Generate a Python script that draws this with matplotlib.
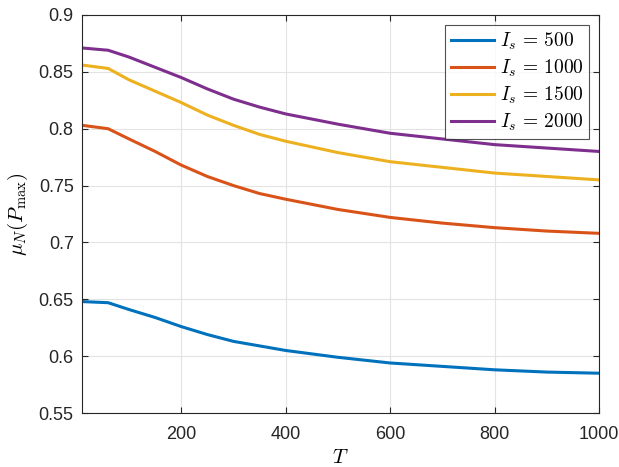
import numpy as np
import matplotlib
matplotlib.use("Agg")
import matplotlib.pyplot as plt

plt.rcParams['font.family'] = ['Liberation Sans', 'DejaVu Sans']
plt.rcParams['mathtext.fontset'] = 'cm'

# values
T = [10, 60, 100, 150, 200, 250, 300, 350, 400, 500, 600, 700, 800, 900, 1000]
mu_500 = [0.648, 0.647, 0.641, 0.634, 0.626, 0.619, 0.613, 0.609, 0.605, 0.599, 0.594, 0.591, 0.588, 0.586, 0.585]
mu_1000 = [0.803, 0.800, 0.791, 0.780, 0.768, 0.758, 0.750, 0.743, 0.738, 0.729, 0.722, 0.717, 0.713, 0.710, 0.708]
mu_1500 = [0.856, 0.853, 0.843, 0.833, 0.823, 0.812, 0.803, 0.795, 0.789, 0.779, 0.771, 0.766, 0.761, 0.758, 0.755]
mu_2000 = [0.871, 0.869, 0.863, 0.854, 0.845, 0.835, 0.826, 0.819, 0.813, 0.804, 0.796, 0.791, 0.786, 0.783, 0.780]
labels = [r'$I_s\,=\,500$', r'$I_s\,=\,1000$', r'$I_s\,=\,1500$', r'$I_s\,=\,2000$']
colors = ['#0072BD', '#D95319', '#EDB120', '#7E2F8E']

fig = plt.figure(figsize=(6.19, 4.67), dpi=100)
ax = fig.add_axes([0.1325, 0.1156, 0.8352, 0.8523])

for ys, lab, c in zip([mu_500, mu_1000, mu_1500, mu_2000], labels, colors):
    ax.plot(T, ys, color=c, linewidth=2.2, label=lab)

ax.set_xlim(10, 1000)
ax.set_ylim(0.55, 0.9)
ax.set_xticks([200, 400, 600, 800, 1000])
ax.set_yticks([0.55, 0.6, 0.65, 0.7, 0.75, 0.8, 0.85, 0.9])
ax.set_yticklabels(['0.55', '0.6', '0.65', '0.7', '0.75', '0.8', '0.85', '0.9'])
ax.grid(True, color='#e3e3e3', linewidth=0.8)
ax.tick_params(direction='in', top=True, right=True, labelsize=13, colors='#262626', length=4)
ax.tick_params(axis='x', pad=9)
ax.tick_params(axis='y', pad=6)
for s in ax.spines.values():
    s.set_color('#262626')
    s.set_linewidth(0.8)

ax.set_xlabel(r'$T$', fontsize=15, labelpad=4)
ax.set_ylabel(r'$\mu_N(P_{\max})$', fontsize=15, labelpad=6)

leg = ax.legend(loc='upper right', fontsize=14, frameon=True, fancybox=False,
                edgecolor='#262626', handlelength=2.2, handletextpad=0.3,
                labelspacing=0.3, borderpad=0.3, borderaxespad=0.5)
leg.get_frame().set_linewidth(0.8)

fig.savefig('out.png', dpi=100)
